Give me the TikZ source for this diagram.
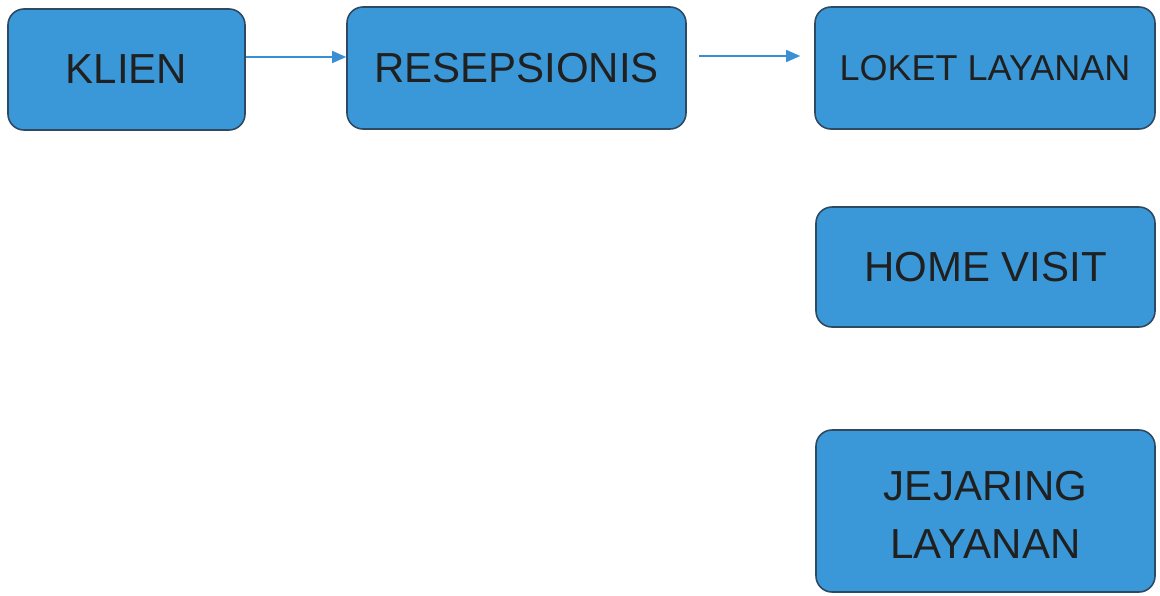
\documentclass[tikz,border=0pt]{standalone}
\usepackage{fontspec}
\setmainfont{Liberation Sans}
\usetikzlibrary{arrows.meta}
\definecolor{boxfill}{HTML}{3B98D8}
\definecolor{boxline}{HTML}{2E4A63}
\definecolor{arrowc}{HTML}{3A8FD2}
\definecolor{txt}{HTML}{202020}
\tikzset{
  box/.style={draw=boxline, line width=1.6pt, fill=boxfill, rounded corners=16pt,
    text=txt, font=\fontsize{42}{58}\selectfont, align=center, inner sep=0pt},
  link/.style={draw=arrowc, line width=1.5pt, -{Triangle[length=14pt,width=12pt]}}
}
\begin{document}
\begin{tikzpicture}[x=1pt,y=-1pt]
\useasboundingbox (0,0) rectangle (1160,595);
\node[box, minimum width=237pt, minimum height=121pt] (klien) at (126.5,69.5) {KLIEN};
\node[box, minimum width=339pt, minimum height=122pt] (resep) at (516.5,68) {RESEPSIONIS};
\node[box, minimum width=340pt, minimum height=122pt, font=\fontsize{36}{44}\selectfont] (loket) at (985,68) {LOKET LAYANAN};
\node[box, minimum width=339pt, minimum height=120pt] (home) at (985.5,267) {HOME VISIT};
\node[box, minimum width=339pt, minimum height=162pt, text height=94pt, text depth=0pt] (jej) at (985.5,511) {JEJARING\\LAYANAN};
\draw[link] (klien.east |- 0,57) -- (resep.west |- 0,57);
\draw[link, shorten <=12pt, shorten >=14pt] (resep.east |- 0,56) -- (loket.west |- 0,56);
\end{tikzpicture}
\end{document}
